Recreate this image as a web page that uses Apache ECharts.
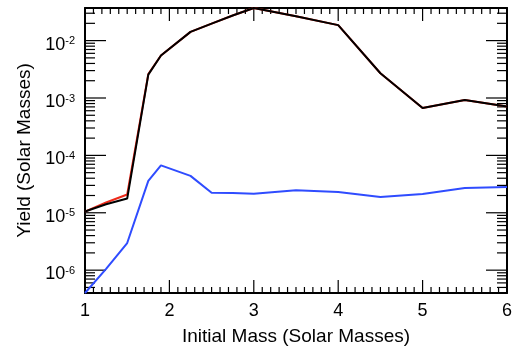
<!DOCTYPE html>
<html>
<head>
<meta charset="utf-8">
<script src="https://cdn.jsdelivr.net/npm/echarts@6/dist/echarts.min.js"></script>
<style>
  html, body { margin: 0; padding: 0; background: #fff; }
  #chart { width: 515px; height: 351px; }
</style>
</head>
<body>
<div id="chart"></div>
<script>
// Initial stellar mass (solar masses)
const mass = [1, 1.25, 1.5, 1.75, 1.9, 2.25, 2.5, 2.75, 3, 3.5, 4, 4.5, 5, 5.5, 6];
// Yields (solar masses)
const yieldRed   = [1.05e-5, 1.51e-5, 2.08e-5, 2.6e-3, 5.5e-3, 1.42e-2, 1.98e-2, 2.74e-2, 3.7e-2, 2.65e-2, 1.86e-2, 2.7e-3, 6.7e-4, 9.2e-4, 7.1e-4];
const yieldBlack = [1.05e-5, 1.41e-5, 1.77e-5, 2.55e-3, 5.5e-3, 1.42e-2, 1.98e-2, 2.74e-2, 3.7e-2, 2.65e-2, 1.86e-2, 2.7e-3, 6.7e-4, 9.2e-4, 7.1e-4];
const yieldBlue  = [4.0e-7, 1.05e-6, 2.97e-6, 3.6e-5, 6.7e-5, 4.4e-5, 2.23e-5, 2.2e-5, 2.14e-5, 2.48e-5, 2.3e-5, 1.88e-5, 2.13e-5, 2.69e-5, 2.8e-5];
// Axis ranges and tick positions
const xRange = [1, 6];
const xMajor = [1, 2, 3, 4, 5, 6];
const yRange = [4.0e-7, 3.7e-2];
const decades = [-7, -6, -5, -4, -3, -2];

const FONT = 'Liberation Sans, Arial, Helvetica, sans-serif';

// Inward tick marks on the four sides of the frame: [x, y, side, length]
// side: 0 left, 1 right, 2 bottom, 3 top
const SIDE_L = 0, SIDE_R = 1, SIDE_B = 2, SIDE_T = 3;
const xMid = (xRange[0] + xRange[1]) / 2;
const yMid = Math.sqrt(yRange[0] * yRange[1]);
const tickMarks = [];
decades.forEach(d => {
  for (let k = 1; k <= 9; k++) {
    const v = k * Math.pow(10, d);
    if (v <= yRange[0] || v >= yRange[1]) continue;
    const len = k === 1 ? 21 : 10;
    tickMarks.push([xMid, v, SIDE_L, len], [xMid, v, SIDE_R, len]);
  }
});
xMajor.forEach((m, i) => {
  if (i > 0 && i < xMajor.length - 1) {
    tickMarks.push([m, yMid, SIDE_B, 13], [m, yMid, SIDE_T, 13]);
  }
  if (i < xMajor.length - 1) {
    for (let j = 1; j <= 9; j++) {
      const x = m + j * (xMajor[i + 1] - m) / 10;
      tickMarks.push([x, yMid, SIDE_B, 6], [x, yMid, SIDE_T, 6]);
    }
  }
});

const pair = ys => mass.map((m, i) => [m, ys[i]]);
const frameLine = () => ({ show: true, onZero: false, lineStyle: { color: '#000', width: 2 } });

const chart = echarts.init(document.getElementById('chart'));
chart.setOption({
  animation: false,
  grid: { left: 85, right: 5, top: 8, bottom: 50 },
  xAxis: [
    {
      type: 'value', position: 'bottom', min: xRange[0], max: xRange[1], interval: 1,
      axisLine: frameLine(), axisTick: { show: false }, splitLine: { show: false },
      axisLabel: { margin: 9, color: '#000', fontSize: 18, fontFamily: FONT },
      name: 'Initial Mass (Solar Masses)', nameLocation: 'middle', nameGap: 34,
      nameTextStyle: { color: '#000', fontSize: 19, fontFamily: FONT }
    },
    {
      type: 'value', position: 'top', min: xRange[0], max: xRange[1], interval: 1,
      axisLine: frameLine(), axisTick: { show: false }, splitLine: { show: false },
      axisLabel: { show: false }
    }
  ],
  yAxis: [
    {
      type: 'log', logBase: 10, position: 'left', min: yRange[0], max: yRange[1],
      axisLine: frameLine(), axisTick: { show: false }, splitLine: { show: false },
      axisLabel: {
        margin: 10, padding: [8, 0, 0, 0],
        formatter: v => {
          const e = Math.log10(v);
          const n = Math.round(e);
          if (Math.abs(e - n) > 1e-6) return '';
          return '{b|10}{s|' + n + '}';
        },
        rich: {
          b: { fontSize: 18, lineHeight: 18, color: '#000', fontFamily: FONT, verticalAlign: 'bottom' },
          s: { fontSize: 11, lineHeight: 11, color: '#000', fontFamily: FONT, verticalAlign: 'top', padding: [0, 0, 10, 0] }
        }
      },
      name: 'Yield (Solar Masses)',
      nameLocation: 'middle', nameGap: 50, nameRotate: 90,
      nameTextStyle: { color: '#000', fontSize: 19, fontFamily: FONT }
    },
    {
      type: 'log', logBase: 10, position: 'right', min: yRange[0], max: yRange[1],
      axisLine: frameLine(), axisTick: { show: false }, splitLine: { show: false },
      axisLabel: { show: false }
    }
  ],
  series: [
    {
      type: 'custom', name: 'ticks', xAxisIndex: 0, yAxisIndex: 0, clip: false, silent: true,
      encode: { x: 0, y: 1 },
      data: tickMarks,
      renderItem: (params, api) => {
        const cs = params.coordSys;
        const p = api.coord([api.value(0), api.value(1)]);
        const side = api.value(2);
        const len = api.value(3);
        let shape;
        if (side === SIDE_L) shape = { x1: cs.x, y1: p[1], x2: cs.x + len, y2: p[1] };
        else if (side === SIDE_R) shape = { x1: cs.x + cs.width, y1: p[1], x2: cs.x + cs.width - len, y2: p[1] };
        else if (side === SIDE_B) shape = { x1: p[0], y1: cs.y + cs.height, x2: p[0], y2: cs.y + cs.height - len };
        else shape = { x1: p[0], y1: cs.y, x2: p[0], y2: cs.y + len };
        return { type: 'line', shape, style: { stroke: '#000', lineWidth: 1.2 } };
      }
    },
    { type: 'line', data: pair(yieldRed), xAxisIndex: 0, yAxisIndex: 0, showSymbol: false, clip: false,
      lineStyle: { color: '#ee2a1a', width: 2 } },
    { type: 'line', data: pair(yieldBlack), xAxisIndex: 0, yAxisIndex: 0, showSymbol: false, clip: false,
      lineStyle: { color: '#000', width: 2 } },
    { type: 'line', data: pair(yieldBlue), xAxisIndex: 0, yAxisIndex: 0, showSymbol: false, clip: false,
      lineStyle: { color: '#2f4cff', width: 2 } }
  ]
});
</script>
</body>
</html>
